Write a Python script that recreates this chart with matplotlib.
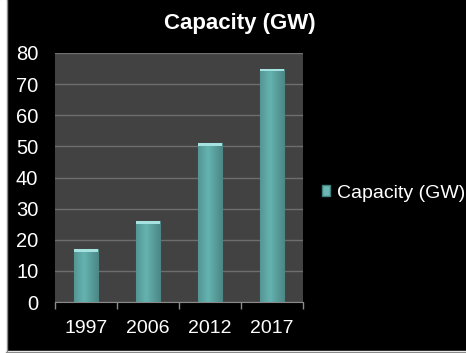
import matplotlib
matplotlib.use("Agg")
import matplotlib.pyplot as plt
import numpy as np
from matplotlib.patches import Rectangle
from matplotlib.lines import Line2D

categories = ["1997", "2006", "2012", "2017"]
values = [17, 26, 51, 75]
series_name = "Capacity (GW)"
title = "Capacity (GW)"
yticks = [0, 10, 20, 30, 40, 50, 60, 70, 80]

plt.rcParams['font.family'] = ['Liberation Sans', 'DejaVu Sans']

W, H = 466, 353
fig = plt.figure(figsize=(W/100, H/100), dpi=100, facecolor='black')

# white strip / gray frame lines
fig.patches.append(Rectangle((0, 0), 6/W, 1, transform=fig.transFigure, color='white', zorder=0))
fig.patches.append(Rectangle((0, 0), 1, 2/H, transform=fig.transFigure, color='white', zorder=0))
fig.lines.append(Line2D([6.5/W, 6.5/W], [2/H, 1], transform=fig.transFigure, color='#8a8a8a', lw=1))
fig.lines.append(Line2D([6/W, 1], [1.5/H, 1.5/H], transform=fig.transFigure, color='#8a8a8a', lw=1))

ax = fig.add_axes([55/W, 1-302/H, 248/W, 249/H])
ax.set_facecolor('#424242')
x = np.arange(len(categories))
bars = ax.bar(x, values, width=0.4, color='#5ea9a7', edgecolor='#44807f', linewidth=0.8, zorder=3)

# horizontal gradient fill inside each bar
grad = np.linspace(0, 1, 64)
prof = 1.05 - 0.22*np.abs(grad - 0.4)*2
cols = np.zeros((1, 64, 3))
base = np.array([0x60, 0xab, 0xa9])/255
cols[0] = np.clip(base[None, :]*prof[:, None], 0, 1)
for b in bars:
    x0, w, h = b.get_x(), b.get_width(), b.get_height()
    im = ax.imshow(cols, extent=[x0, x0+w, 0, h], aspect='auto', zorder=3.5, interpolation='bilinear')
    im.set_clip_path(b)
    cap_h = 0.9
    ax.add_patch(Rectangle((x0, h-cap_h), w, cap_h, color='#a6e2e0', zorder=4, lw=0))

ax.set_xlim(-0.5, len(categories)-0.5)
ax.set_ylim(0, 80)
ax.set_yticks(yticks)
ax.set_yticklabels([str(v) for v in yticks], color='white', fontsize=14.5)
ax.yaxis.grid(True, color='#6e6e6e', linewidth=1, zorder=1)
ax.set_axisbelow(True)
ax.tick_params(axis='y', length=0, pad=12)

ax.set_xticks(x)
ax.set_xticklabels(categories, color='white', fontsize=14)
ax.tick_params(axis='x', length=0, pad=13)
ax.set_xticks(np.arange(len(categories)+1)-0.5, minor=True)
ax.tick_params(axis='x', which='minor', length=5, color='#8a8a8a', width=1)

for s in ['top', 'right', 'left']:
    ax.spines[s].set_visible(False)
ax.spines['bottom'].set_color('#8a8a8a')

fig.text(240/W, 1-24/H, title, color='white', fontsize=16, fontweight='bold', ha='center', va='center')

handle = Rectangle((0, 0), 1, 1, facecolor='#6cb6b4', edgecolor='#3f7f7e')
leg = fig.legend([handle], [series_name], loc='center left', bbox_to_anchor=(304/W, 1-193/H),
                 frameon=False, fontsize=14, handlelength=0.45, handleheight=0.45, handletextpad=0.35,
                 labelcolor='white')

fig.savefig('out.png', dpi=100, facecolor='black')
